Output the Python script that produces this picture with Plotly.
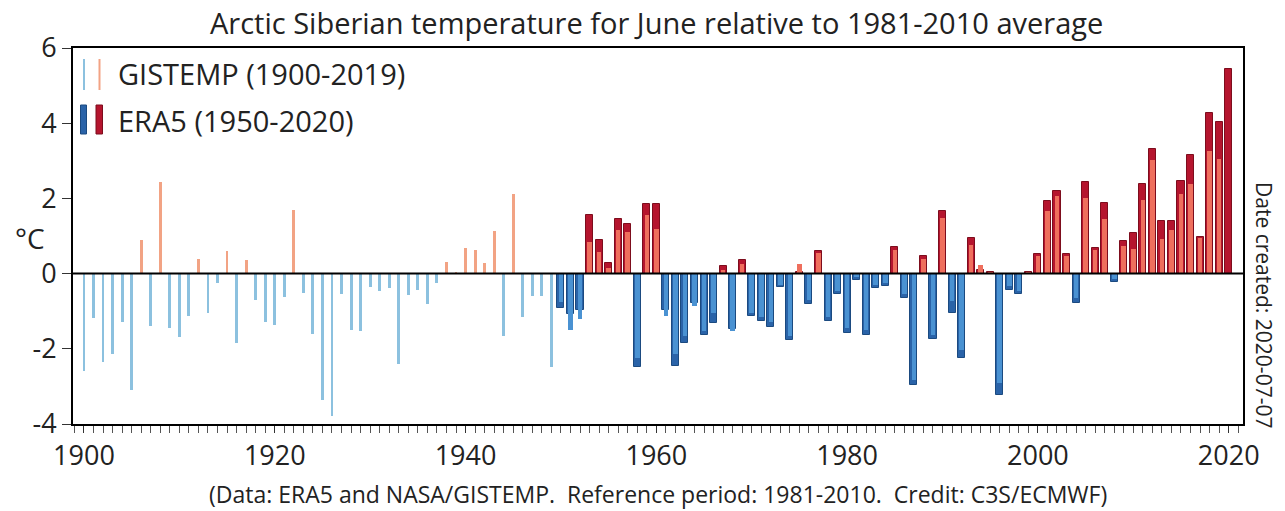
import plotly.graph_objects as go

# ---------------- data ----------------
gis_years = list(range(1900, 2020))
gis_values = [
    -2.60, -1.18, -2.36, -2.15, -1.29, -3.10, 0.89, -1.40, 2.43, -1.45,   # 1900s
    -1.69, -1.12, 0.40, -1.06, -0.25, 0.59, -1.85, 0.37, -0.69, -1.28,    # 1910s
    -1.36, -0.62, 1.69, -0.51, -1.61, -3.35, -3.78, -0.55, -1.50, -1.53,  # 1920s
    -0.35, -0.46, -0.38, -2.40, -0.58, -0.43, -0.81, -0.25, 0.30, 0.02,   # 1930s
    0.67, 0.62, 0.27, 1.13, -1.67, 2.13, -1.15, -0.60, -0.60, -2.48,      # 1940s
    -0.75, -1.49, -1.22, 0.85, 0.58, 0.15, 1.17, 1.10, -2.24, 1.57,       # 1950s
    1.19, -1.13, -2.15, -1.67, -0.86, -1.53, -1.05, 0.10, -1.53, 0.25,    # 1960s
    -1.05, -1.15, -1.30, -0.30, -1.65, 0.25, -0.70, 0.55, -1.15, -0.47,   # 1970s
    -1.45, -0.10, -1.50, -0.30, -0.25, 0.62, -0.53, -2.82, 0.40, -1.62,   # 1980s
    1.48, -0.74, -2.02, 0.77, 0.24, 0.05, -2.91, -0.34, -0.47, 0.05,      # 1990s
    0.46, 1.66, 2.06, 0.48, -0.65, 2.01, 0.62, 1.45, -0.15, 0.73,         # 2000s
    0.66, 1.97, 3.01, 0.93, 1.17, 2.13, 2.38, 0.95, 3.27, 3.05,           # 2010s
]

era5_years = list(range(1950, 2021))
era5_values = [
    -0.91, -1.07, -0.98, 1.57, 0.89, 0.28, 1.45, 1.33, -2.48, 1.85,       # 1950s
    1.84, -0.98, -2.46, -1.84, -0.78, -1.63, -1.31, 0.21, -1.46, 0.35,    # 1960s
    -1.13, -1.27, -1.42, -0.35, -1.77, 0.05, -0.80, 0.59, -1.25, -0.53,   # 1970s
    -1.57, -0.16, -1.64, -0.38, -0.34, 0.71, -0.66, -2.95, 0.46, -1.74,   # 1980s
    1.66, -1.05, -2.24, 0.94, 0.09, 0.04, -3.22, -0.43, -0.54, 0.04,      # 1990s
    0.52, 1.94, 2.21, 0.53, -0.77, 2.44, 0.68, 1.88, -0.23, 0.86,         # 2000s
    1.07, 2.39, 3.31, 1.39, 1.39, 2.46, 3.15, 0.98, 4.27, 4.02,           # 2010s
    5.45,                                                                  # 2020
]

y_tick_vals = [-4, -2, 0, 2, 4, 6]
y_tick_text = ["-4", "-2", "0", "2", "4", "6"]
x_tick_vals = [1900, 1920, 1940, 1960, 1980, 2000, 2020]
x_tick_text = ["1900", "1920", "1940", "1960", "1980", "2000", "2020"]

title_text = "Arctic Siberian temperature for June relative to 1981-2010 average"
credit_text = "(Data: ERA5 and NASA/GISTEMP.  Reference period: 1981-2010.  Credit: C3S/ECMWF)"
date_text = "Date created: 2020-07-07"
legend_gis = "GISTEMP (1900-2019)"
legend_era = "ERA5 (1950-2020)"

# ---------------- styles ----------------
ERA_RED, ERA_BLUE = "#b5152e", "#2a63a8"
ERA_RED_LINE, ERA_BLUE_LINE = "#7d0d1d", "#1b4a80"
GIS_IN_RED, GIS_IN_BLUE = "#ef6f5d", "#4a92d2"
GIS_RED, GIS_BLUE = "#f2a384", "#8cc1df"
FONT = "Open Sans"
TXT = "#222222"

era_colors = [ERA_RED if v >= 0 else ERA_BLUE for v in era5_values]
era_lines = [ERA_RED_LINE if v >= 0 else ERA_BLUE_LINE for v in era5_values]
gis_colors = []
gis_widths = []
for yr, v in zip(gis_years, gis_values):
    if yr >= 1950:
        gis_colors.append(GIS_IN_RED if v >= 0 else GIS_IN_BLUE)
        gis_widths.append(0.48)
    else:
        gis_colors.append(GIS_RED if v >= 0 else GIS_BLUE)
        gis_widths.append(0.30)

fig = go.Figure()
fig.add_trace(go.Bar(
    x=era5_years, y=era5_values, width=0.74,
    marker=dict(color=era_colors, line=dict(color=era_lines, width=1)),
    showlegend=False, hoverinfo="x+y",
))
fig.add_trace(go.Bar(
    x=gis_years, y=gis_values, width=gis_widths,
    marker=dict(color=gis_colors, line=dict(width=0)),
    showlegend=False, hoverinfo="x+y",
))

# plot-area geometry in pixels
L, R, T, B = 73, 1243, 48, 424
W, H = 1285, 511


def px(xp):
    return (xp - L) / (R - L)


def py(yp):
    return (B - yp) / (B - T)


shapes = [
    # legend icons
    dict(type="line", xref="paper", yref="paper", x0=px(84), x1=px(84), y0=py(59), y1=py(90),
         line=dict(color=GIS_BLUE, width=2)),
    dict(type="line", xref="paper", yref="paper", x0=px(99.5), x1=px(99.5), y0=py(59), y1=py(90),
         line=dict(color=GIS_RED, width=2)),
    dict(type="rect", xref="paper", yref="paper", x0=px(80.5), x1=px(86.5), y0=py(105), y1=py(134),
         fillcolor=ERA_BLUE, line=dict(color=ERA_BLUE_LINE, width=1)),
    dict(type="rect", xref="paper", yref="paper", x0=px(96), x1=px(102.5), y0=py(105), y1=py(134),
         fillcolor=ERA_RED, line=dict(color=ERA_RED_LINE, width=1)),
    # zero line on top
    dict(type="line", xref="paper", yref="y", x0=0, x1=1, y0=0, y1=0,
         line=dict(color="black", width=2)),
]

annotations = [
    dict(text=title_text, xref="paper", yref="paper", x=(656 - L) / (R - L), y=py(22),
         showarrow=False, font=dict(family=FONT, size=29, color=TXT), xanchor="center", yanchor="middle"),
    dict(text=credit_text, xref="paper", yref="paper", x=(658 - L) / (R - L), y=py(494),
         showarrow=False, font=dict(family=FONT, size=23, color=TXT), xanchor="center", yanchor="middle"),
    dict(text=date_text, xref="paper", yref="paper", x=px(1264), y=py(305),
         showarrow=False, textangle=90, font=dict(family=FONT, size=21, color=TXT),
         xanchor="center", yanchor="middle"),
    dict(text="°C", xref="paper", yref="paper", x=px(30), y=py(238),
         showarrow=False, font=dict(family=FONT, size=28, color=TXT), xanchor="center", yanchor="middle"),
    dict(text=legend_gis, xref="paper", yref="paper", x=px(116), y=py(73),
         showarrow=False, font=dict(family=FONT, size=29, color=TXT), xanchor="left", yanchor="middle"),
    dict(text=legend_era, xref="paper", yref="paper", x=px(116), y=py(120),
         showarrow=False, font=dict(family=FONT, size=29, color=TXT), xanchor="left", yanchor="middle"),
]

fig.update_layout(
    width=W, height=H,
    margin=dict(l=L, r=W - R, t=T, b=H - B),
    paper_bgcolor="white", plot_bgcolor="white",
    barmode="overlay", bargap=0,
    showlegend=False,
    shapes=shapes, annotations=annotations,
    font=dict(family=FONT, color=TXT),
)
fig.update_xaxes(
    range=[1898.85, 2021.5],
    tickvals=x_tick_vals, ticktext=x_tick_text,
    ticks="outside", ticklen=7, tickwidth=1, tickcolor="#333",
    minor=dict(ticks="outside", dtick=1, tick0=1900, ticklen=7, tickwidth=1, tickcolor="#555"),
    showgrid=False, zeroline=False,
    showline=True, mirror=True, linecolor="black", linewidth=2,
    tickfont=dict(family=FONT, size=27, color=TXT),
)
fig.update_yaxes(
    range=[-4, 6],
    tickvals=y_tick_vals, ticktext=y_tick_text,
    ticks="outside", ticklen=9, tickwidth=1, tickcolor="#333",
    showgrid=False, zeroline=False,
    showline=True, mirror=True, linecolor="black", linewidth=2,
    tickfont=dict(family=FONT, size=27, color=TXT),
)

fig.write_html("out.html")
